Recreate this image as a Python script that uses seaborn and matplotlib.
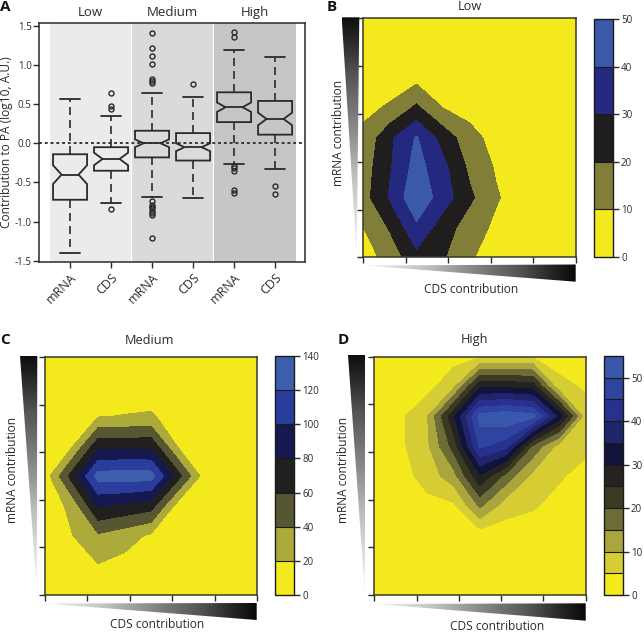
import numpy as np
import matplotlib
matplotlib.use("Agg")
import matplotlib.pyplot as plt
import seaborn as sns
from matplotlib.patches import Polygon
import matplotlib.transforms as mtransforms

# ---------------- data ----------------
# Panel A: box statistics (Contribution to PA, log10 A.U.)
groups = ["Low", "Medium", "High"]
box_labels = ["mRNA", "CDS", "mRNA", "CDS", "mRNA", "CDS"]
medians = [-0.40, -0.20, 0.00, -0.05, 0.46, 0.31]
q1 = [-0.72, -0.35, -0.18, -0.22, 0.27, 0.11]
q3 = [-0.14, -0.05, 0.16, 0.13, 0.65, 0.54]
whisk_lo = [-1.40, -0.765, -0.69, -0.70, -0.26, -0.33]
whisk_hi = [0.56, 0.35, 0.64, 0.59, 1.19, 1.10]
ci_lo = [-0.52, -0.28, -0.05, -0.10, 0.40, 0.23]
ci_hi = [-0.28, -0.12, 0.05, 0.00, 0.52, 0.39]
outliers = [
    [],
    [0.64, 0.48, 0.44, -0.84],
    [1.40, 1.22, 1.11, 1.01, 0.82, 0.79, 0.77, -0.74, -0.79, -0.81, -0.83,
     -0.86, -0.89, -0.92, -1.21],
    [0.76],
    [1.42, 1.36, -0.29, -0.32, -0.35, -0.59, -0.63],
    [-0.54, -0.65],
]

# Panels B-D: gene counts on a CDS x mRNA contribution grid (rows: mRNA low->high)
low_counts = [
    [5, 14, 27, 21, 11, 6, 3, 2, 2],
    [10, 21, 38, 25, 15, 8, 3, 2, 2],
    [16, 31, 48, 35, 22, 11, 5, 3, 2],
    [15, 29, 44, 33, 18, 9, 4, 2, 2],
    [12, 28, 41, 26, 14, 6, 3, 2, 1],
    [8, 11, 22, 10, 6, 4, 2, 1, 1],
    [5, 6, 7, 5, 3, 2, 1, 1, 1],
    [3, 3, 3, 3, 2, 1, 1, 1, 1],
    [2, 2, 2, 2, 1, 1, 1, 1, 1],
]
medium_counts = [
    [3, 5, 6, 4, 3, 2, 1, 1, 1],
    [4, 10, 19, 14, 8, 4, 2, 1, 1],
    [6, 19, 37, 28, 17, 6, 3, 2, 1],
    [7, 25, 82, 76, 69, 12, 4, 2, 1],
    [9, 67, 128, 131, 129, 69, 11, 3, 2],
    [5, 17, 74, 74, 75, 19, 6, 2, 2],
    [3, 6, 19, 21, 23, 8, 3, 2, 1],
    [2, 3, 5, 6, 6, 3, 2, 1, 1],
    [1, 2, 2, 3, 3, 2, 1, 1, 1],
]
high_counts = [
    [1, 1, 1, 1, 1, 1, 1, 1, 1],
    [1, 1, 1.5, 1.5, 1.5, 1.5, 1.5, 1, 1],
    [1, 1.5, 2, 2.5, 2, 2.5, 2.5, 2, 1.5],
    [1, 2, 3.5, 4, 16, 7, 5.5, 3.5, 2.5],
    [1.5, 3, 7, 13, 29.5, 18, 8.5, 5.5, 3.5],
    [2, 4, 9, 22, 46, 42, 19, 8, 6],
    [2, 4, 9.7, 29, 52, 54, 52, 33, 7],
    [2, 2.5, 3, 8.75, 29, 29, 28, 6, 4.5],
    [1, 1.5, 2, 3, 4.5, 4.5, 4.5, 3.5, 2.5],
]
low_levels = [0, 10, 20, 30, 40, 50]
medium_levels = [0, 20, 40, 60, 80, 100, 120, 140]
high_levels = [0, 5, 10, 15, 20, 25, 30, 35, 40, 45, 50, 55]
high_ticks = [0, 10, 20, 30, 40, 50]

# ---------------- style ----------------
sns.set_style("ticks")
plt.rcParams["font.family"] = ["Open Sans", "DejaVu Sans"]
plt.rcParams["axes.linewidth"] = 1.1

W, H = 644, 632
fig = plt.figure(figsize=(W / 100, H / 100), dpi=100)


def rect(l, t, r, b):
    return [l / W, 1 - b / H, (r - l) / W, (b - t) / H]


ink = "#2a2a2a"

# ---------------- Panel A ----------------
axA = fig.add_axes(rect(39.3, 23.3, 305, 261.7))
bg = ["#ebebeb", "#dadada", "#c6c6c6"]
spans = [(-0.5, 1.48), (1.52, 3.48), (3.52, 5.5)]
for (a, b), c in zip(spans, bg):
    axA.axvspan(a, b, color=c, lw=0, zorder=0)

stats = []
for i in range(6):
    stats.append(dict(med=medians[i], q1=q1[i], q3=q3[i], whislo=whisk_lo[i],
                      whishi=whisk_hi[i], cilo=ci_lo[i], cihi=ci_hi[i],
                      fliers=np.array(outliers[i]), label=box_labels[i]))
axA.bxp(stats, positions=range(6), widths=0.83, capwidths=0.48,
        shownotches=True, patch_artist=True,
        boxprops=dict(facecolor="none", edgecolor=ink, lw=1.3),
        whiskerprops=dict(color=ink, lw=1.2, ls=(0, (4.8, 3))),
        capprops=dict(color=ink, lw=1.3),
        medianprops=dict(color=ink, lw=1.3),
        flierprops=dict(marker="o", markersize=3.6, markerfacecolor="none",
                        markeredgecolor=ink, markeredgewidth=1.0))
axA.axhline(0, color=ink, lw=1.3, ls=(0, (1.6, 1.6)), zorder=3)
axA.set_xlim(-0.75, 5.73)
axA.set_ylim(-1.51, 1.53)
axA.set_yticks([-1.5, -1.0, -0.5, 0.0, 0.5, 1.0, 1.5])
axA.set_yticklabels(["-1.5", "-1.0", "-0.5", "0.0", "0.5", "1.0", "1.5"])
axA.set_xticks(range(6))
axA.set_xticklabels(box_labels, rotation=45, ha="right", va="top",
                    rotation_mode="anchor")
axA.tick_params(axis="y", labelsize=7, length=4, width=1, colors=ink, pad=1.5)
axA.tick_params(axis="x", labelsize=9, length=4, width=1, colors=ink, pad=3)
axA.set_ylabel("Contribution to PA (log10, A.U.)", fontsize=8.6, color=ink,
               labelpad=1)
for s in axA.spines.values():
    s.set_color(ink)
trA = mtransforms.blended_transform_factory(axA.transData, axA.transAxes)
for g, x in zip(groups, [0.5, 2.5, 4.5]):
    axA.text(x, 1.018, g, transform=trA, ha="center", va="bottom",
             fontsize=9.5, color=ink)

# ---------------- Panels B-D ----------------
gx = np.linspace(0, 1, 9)
gy = np.linspace(0, 1, 9)

colors_low = ["#f3e91c", "#807e37", "#1f1d1d", "#24287e", "#3a5aa8"]
colors_med = ["#f3e91c", "#adaa3c", "#575632", "#221f1f", "#161850",
              "#2a3c9c", "#3c5eac"]
colors_high = ["#f3e91c", "#d5cd33", "#aba53d", "#6d6b36", "#3a3a22",
               "#262222", "#10133a", "#20246a", "#28318e", "#2f43a0",
               "#3a58ab"]


def contour_panel(axrect, caxrect, counts, levels, colors, ticks):
    ax = fig.add_axes(axrect)
    cs = ax.contourf(gx, gy, np.array(counts, dtype=float), levels=levels,
                     colors=colors, antialiased=False)
    ax.set_xlim(0, 1)
    ax.set_ylim(0, 1)
    ax.set_xticks(np.linspace(0, 1, 6))
    ax.set_yticks(np.linspace(0, 1, 6))
    ax.tick_params(labelleft=False, labelbottom=False, length=4, width=1,
                   colors=ink, direction="out")
    for s in ax.spines.values():
        s.set_color("#3a3828")
        s.set_linewidth(1.1)
    cax = fig.add_axes(caxrect)
    cb = fig.colorbar(cs, cax=cax, drawedges=True)
    cb.set_ticks(ticks)
    cb.ax.tick_params(labelsize=7, length=4, width=1, colors=ink, pad=2)
    cb.outline.set_edgecolor("#1a1a1a")
    cb.outline.set_linewidth(1.0)
    cb.dividers.set_color("#1a1a1a")
    cb.dividers.set_linewidth(0.8)
    return ax


axB = contour_panel(rect(363.3, 18.3, 575.7, 257.3), rect(594, 19.3, 612.7, 256.7),
                    low_counts, low_levels, colors_low, low_levels)
axC = contour_panel(rect(45, 357, 257, 595), rect(275, 356, 294, 595),
                    medium_counts, medium_levels, colors_med, medium_levels)
axD = contour_panel(rect(374.3, 356.7, 585.7, 595), rect(604, 356, 622.7, 595),
                    high_counts, high_levels, colors_high, high_ticks)

# ---------------- overlay: wedges and labels (pixel coordinates) ----------------
ov = fig.add_axes([0, 0, 1, 1], zorder=10)
ov.set_xlim(0, W)
ov.set_ylim(H, 0)
ov.axis("off")
ov.patch.set_visible(False)

vgrad = np.linspace(0.95, 0.08, 256).reshape(-1, 1)
hgrad = np.linspace(0.12, 0.97, 256).reshape(1, -1)


def wedge(pts, grad):
    xs = [p[0] for p in pts]
    ys = [p[1] for p in pts]
    im = ov.imshow(grad, cmap="Greys", vmin=0, vmax=1, aspect="auto",
                   extent=(min(xs), max(xs), max(ys), min(ys)), origin="upper",
                   interpolation="bilinear")
    poly = Polygon(pts, closed=True, transform=ov.transData)
    im.set_clip_path(poly)


wedge([(341.7, 17.3), (359.3, 17.3), (356.7, 255)], vgrad)
wedge([(365, 265.5), (575.7, 264.5), (575.7, 281.7)], hgrad)
wedge([(20, 356), (37.3, 356), (36.7, 590)], vgrad)
wedge([(45, 603.5), (256.7, 603), (256.7, 620)], hgrad)
wedge([(348.3, 355), (365, 355), (365, 595)], vgrad)
wedge([(375, 604), (585.7, 603.3), (585.7, 620.7)], hgrad)
ov.set_xlim(0, W)
ov.set_ylim(H, 0)

lab = dict(fontsize=8.6, color=ink, ha="center", va="center")
for x, y, t in [(5, 7, "A"), (331.7, 7, "B"), (5, 340, "C"), (343, 340, "D")]:
    ov.text(x, y, t, fontsize=11, fontweight="bold", color="#111111",
            ha="center", va="center")
ov.text(470, 7, "Low", fontsize=9.2, color=ink, ha="center", va="center")
ov.text(150, 340, "Medium", fontsize=9.2, color=ink, ha="center", va="center")
ov.text(475, 340, "High", fontsize=9.2, color=ink, ha="center", va="center")
ov.text(338.3, 133, "mRNA contribution", rotation=90, **lab)
ov.text(13, 470, "mRNA contribution", rotation=90, **lab)
ov.text(343.3, 470, "mRNA contribution", rotation=90, **lab)
ov.text(470.7, 289.5, "CDS contribution", **lab)
ov.text(156.7, 625, "CDS contribution", **lab)
ov.text(496.7, 626.5, "CDS contribution", **lab)

fig.savefig("out.png", dpi=100)
